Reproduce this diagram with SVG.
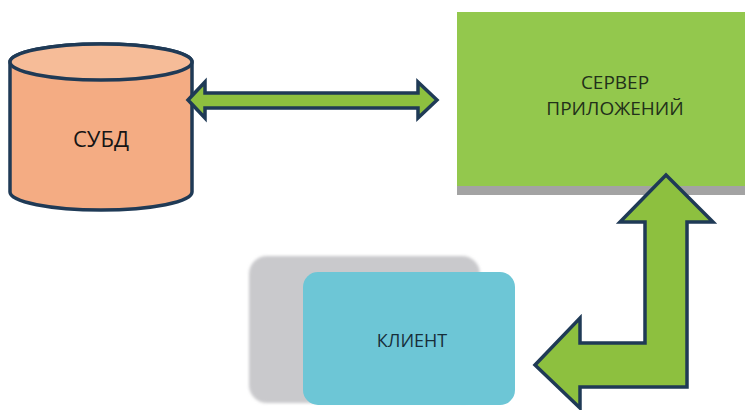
<svg xmlns="http://www.w3.org/2000/svg" width="745" height="410" viewBox="0 0 745 410">
<defs>
<style>
.lbl{font-family:"Open Sans","Noto Sans",sans-serif;font-size:19px;text-anchor:middle}
.arr{fill:#8DC03F;stroke:#1F3A56;stroke-width:3.5;stroke-linejoin:miter}
</style>
<filter id="soft" x="-10%" y="-10%" width="120%" height="120%"><feGaussianBlur stdDeviation="1.8"/></filter>
</defs>
<rect width="745" height="410" fill="#ffffff"/>
<g id="db">
<path d="M10,62 L10,192 A91,18 0 0 0 192,192 L192,62 A91,18 0 0 0 10,62 Z" fill="#F4AC83" stroke="#1F3A56" stroke-width="3.5"/>
<ellipse cx="101" cy="62" rx="91" ry="18" fill="#F6BC98" stroke="#1F3A56" stroke-width="3.5"/>
<text class="lbl" x="101" y="147" fill="#151515" style="font-size:22px">СУБД</text>
</g>
<g id="server">
<rect x="457" y="12" width="288" height="183" fill="#A3A3A3"/>
<rect x="457" y="12" width="288" height="174" fill="#93C84D"/>
<text class="lbl" x="615" y="89" fill="#22301a">СЕРВЕР</text>
<text class="lbl" x="615" y="115" fill="#22301a">ПРИЛОЖЕНИЙ</text>
</g>
<g id="client">
<rect x="249" y="256" width="231" height="147" rx="18" fill="#C9C9CC" filter="url(#soft)"/>
<rect x="303" y="272" width="212" height="133" rx="15" fill="#6DC6D6"/>
<text class="lbl" x="412" y="347" fill="#172e3a" style="font-size:18px">КЛИЕНТ</text>
</g>
<g id="connectors">
<path class="arr" d="M188,100 L205,82 L205,93 L418,93 L418,82 L437,100 L418,118 L418,108 L205,108 L205,118 Z"/>
<path class="arr" d="M666,175 L713,222 L687,222 L687,387 L580,387 L580,408 L535,365 L580,318 L580,343 L645,343 L645,222 L620,222 Z"/>
</g>
</svg>
